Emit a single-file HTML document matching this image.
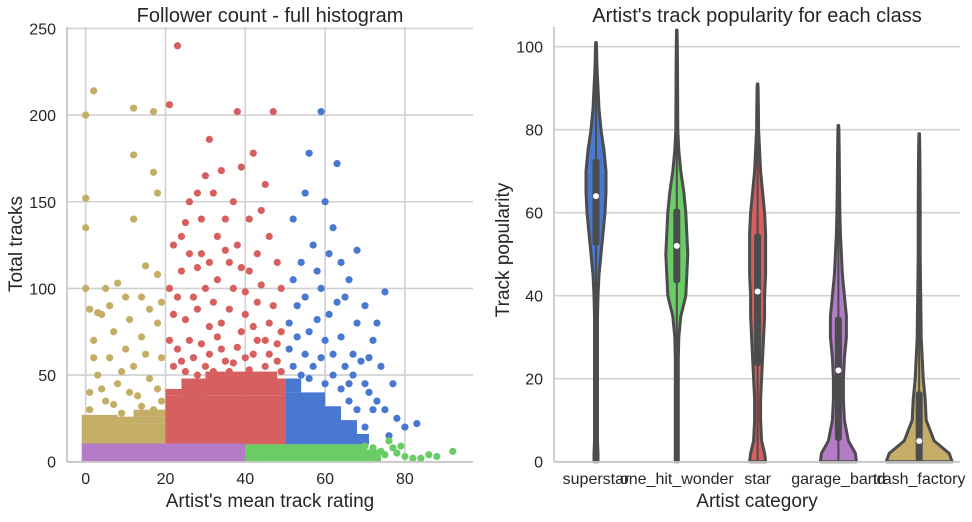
<!DOCTYPE html>
<html><head><meta charset="utf-8"><style>
html,body{margin:0;padding:0;background:#fff;}
svg text{font-family:"Liberation Sans",sans-serif;fill:#262626;}
</style></head><body>
<svg id="s" width="972" height="517" xmlns="http://www.w3.org/2000/svg">
<g id="left"></g>
<g id="right"></g>
</svg>
<script>
// ---------- scatter data ----------
const tanPts=[[0,200],[0,152],[0,135],[2,214],[12,204],[17,202],[12,177],[17,167],[12,140],[18,155],[0,100],[5,100],[3,86],[8,103],[10,95],[15,113],[18,108],[2,70],[6,60],[10,65],[14,72],[3,50],[8,45],[12,55],[16,48],[19,60],[1,40],[5,35],[13,38],[17,30],[9,28],[4,85],[11,82],[16,88],[7,75],[18,80],[1,88],[6,90],[14,95],[19,92],[2,60],[9,52],[15,62],[4,42],[11,40],[18,42],[7,33],[14,32],[1,30],[19,35]];
const redPts=[[23,240],[21,206],[38,202],[31,186],[39,170],[42,178],[47,202],[30,165],[28,155],[32,155],[25,138],[35,140],[44,145],[22,125],[29,120],[38,125],[46,130],[24,110],[33,105],[41,110],[49,100],[27,95],[36,88],[43,92],[22,85],[31,78],[39,75],[46,80],[26,70],[34,65],[42,62],[48,68],[24,58],[30,55],[37,57],[45,55],[21,100],[28,112],[40,98],[33,130],[26,150],[41,140],
[23,95],[25,82],[28,88],[30,100],[32,92],[34,80],[36,115],[37,100],[40,85],[42,78],[44,102],[45,70],[47,90],[49,75],[21,70],[23,65],[27,60],[29,68],[31,62],[33,72],[35,58],[38,66],[40,60],[43,70],[46,62],[48,58],[22,55],[25,52],[28,50],[32,52],[36,52],[41,53],[44,50],[49,52],[26,120],[31,115],[35,122],[39,112],[43,120],[48,115],[24,130],[29,140],[37,150],[45,160],[34,168]];
const bluePts=[[59,202],[56,178],[63,172],[55,155],[60,150],[52,140],[62,135],[68,122],[57,125],[54,115],[64,115],[52,105],[59,100],[66,105],[53,90],[61,85],[70,90],[75,98],[56,75],[64,72],[72,70],[51,65],[59,60],[67,62],[74,55],[62,50],[70,45],[77,45],[66,35],[72,30],[78,25],[80,20],[83,22],[76,15],[70,20],[58,82],[68,80],[55,95],[63,92],
[51,80],[53,72],[55,62],[57,55],[60,70],[62,62],[65,55],[67,50],[69,58],[71,40],[73,35],[75,30],[68,30],[64,42],[66,45],[60,45],[56,48],[52,55],[54,50],[58,110],[61,120],[65,95],[73,80],[71,60]];
const greenPts=[[72,8],[76,12],[78,5],[80,3],[84,2],[86,4],[88,3],[92,6],[75,4],[82,2],[70,9],[74,6],[77,8],[79,9]];
// dense regions: [x0,x1,y0,y1]
const denseTan=[[-1,20,10,22],[-1,8,22,27],[8,20,22,26],[12,20,26,30]];
const denseRed=[[20,50,10,38],[20,30,38,42],[24,50,38,48],[30,48,48,52]];
const denseBlue=[[50,60,10,40],[60,64,10,32],[64,68,10,24],[68,71,10,16],[50,54,40,48]];
const densePurple=[[-1,40,0,10.5]];
const denseGreen=[[40,70,0,10],[70,74,0,7]];
const scatXTicks=[0,20,40,60,80];
const scatYTicks=[0,50,100,150,200,250];

// ---------- violin data ----------
const cats=["superstar","one_hit_wonder","star","garage_band","trash_factory"];
const vColors=["#4878cf","#6acc65","#d65f5f","#b47cc7","#c4ad66"];
const vY=[0,2,5,10,15,20,25,30,35,40,45,50,55,60,65,70,75,80,85,90,95,100];
const dSuper=[2,2,1.5,1.5,1.5,1.5,1.5,1.5,1.5,2,3,5,7,9,10,10,8,5,3,2,1,0.5];
const dGreen=[1.5,1.5,1.5,1.5,1.5,1.5,1.5,2,4,9,10,11,10,9,7,4,2,1,0.9,0.8,0.7,0.5];
const dRed=[8,7,4,3,3,4,5,6,7,7,8,8,8,7,5,3,2,1,0.8,0.5,0,0];
const dPurple=[18,17,10,6,5,5,6,8,8,6,4,3,2,1.5,1.2,1,0.8,0.5,0,0,0,0];
const dTan=[33,30,15,7,6,4,3,2,1.8,1.5,1.2,1,1,1,0.9,0.8,0.6,0.5,0,0,0,0];
const vDens=[dSuper,dGreen,dRed,dPurple,dTan];
const vMax=[101,104,91,81,79];
const vQ1=[52,43,23,5,0];
const vQ3=[73,61,55,35,17];
const vMed=[64,52,41,22,5];
const violYTicks=[0,20,40,60,80,100];

const NS="http://www.w3.org/2000/svg";
function mk(tag,attrs,parent,txt){const e=document.createElementNS(NS,tag);for(const k in attrs)e.setAttribute(k,attrs[k]);if(txt!==undefined)e.textContent=txt;parent.appendChild(e);return e;}

// ---------- scatter ----------
const L=document.getElementById('left');
const sx=v=>85.7+v*3.99, sy=v=>461.7-v*1.733;
scatXTicks.forEach(t=>{const l=mk('line',{x1:sx(t),x2:sx(t),y1:27,y2:461.7,stroke:'#d0d0d0','stroke-width':1.6},L);

const tx=mk('text',{x:sx(t),y:484,'font-size':16,'text-anchor':'middle'},L,t);
});
scatYTicks.forEach(t=>{const l=mk('line',{x1:67,x2:473,y1:sy(t),y2:sy(t),stroke:'#d0d0d0','stroke-width':1.6},L);

const tx=mk('text',{x:56,y:sy(t)+6,'font-size':16,'text-anchor':'end'},L,t);
});
function dense(arr,col,name){arr.forEach(r=>{const e=mk('rect',{x:sx(r[0]),y:sy(r[3]),width:sx(r[1])-sx(r[0]),height:sy(r[2])-sy(r[3]),fill:col},L);
});}
function pts(arr,col,name){arr.forEach(p=>{const e=mk('circle',{cx:sx(p[0]),cy:sy(p[1]),r:3.6,fill:col},L);
});}
dense(denseTan,'#c4ad66','dense-trash-factory');dense(denseRed,'#d65f5f','dense-star');dense(denseBlue,'#4878cf','dense-superstar');
pts(tanPts,'#c4ad66','point-trash-factory');pts(redPts,'#d65f5f','point-star');pts(bluePts,'#4878cf','point-superstar');
dense(denseGreen,'#6acc65','dense-one-hit-wonder');dense(densePurple,'#b47cc7','dense-garage-band');
pts(greenPts,'#6acc65','point-one-hit-wonder');
let a=mk('line',{x1:67,x2:67,y1:27,y2:462,stroke:'#c8c8c8','stroke-width':1.8},L);
a=mk('line',{x1:67,x2:473,y1:462,y2:462,stroke:'#c8c8c8','stroke-width':1.8},L);
a=mk('text',{x:270,y:22,'font-size':20,'text-anchor':'middle'},L,'Follower count - full histogram');
a=mk('text',{x:270,y:507,'font-size':19,'text-anchor':'middle'},L,"Artist's mean track rating");
a=mk('text',{x:0,y:0,'font-size':19,'text-anchor':'middle',transform:'translate(22,244) rotate(-90)'},L,'Total tracks');

// ---------- violins ----------
const R=document.getElementById('right');
const vx=i=>596+i*80.8, vy=v=>461.7-v*4.15;
violYTicks.forEach(t=>{const l=mk('line',{x1:554,x2:960,y1:vy(t),y2:vy(t),stroke:'#d0d0d0','stroke-width':1.6},R);

const tx=mk('text',{x:543,y:vy(t)+6,'font-size':16,'text-anchor':'end'},R,t);
});
cats.forEach((c,i)=>{
 const cx=vx(i),d=vDens[i];const right=[],left=[];
 for(let k=0;k<vY.length;k++){if(vY[k]>vMax[i])break;right.push([cx+d[k],vy(vY[k])]);}
 right.push([cx+0.3,vy(vMax[i])]);
 for(let k=right.length-1;k>=0;k--)left.push([2*cx-right[k][0],right[k][1]]);
 const all=right.concat(left);
 const p=mk('path',{d:'M'+all.map(q=>q[0].toFixed(1)+','+q[1].toFixed(1)).join('L')+'Z',fill:vColors[i],stroke:'#4c4c4c','stroke-width':3,'stroke-linejoin':'round'},R);
 
 let e=mk('line',{x1:cx,x2:cx,y1:vy(0),y2:vy(vMax[i]),stroke:'#4c4c4c','stroke-width':2},R);
 
 e=mk('rect',{x:cx-3.5,y:vy(vQ3[i]),width:7,height:vy(vQ1[i])-vy(vQ3[i]),rx:3,fill:'#4c4c4c'},R);
 
 e=mk('circle',{cx:cx,cy:vy(vMed[i]),r:3,fill:'#fff'},R);
 
 e=mk('text',{x:cx,y:484,'font-size':16,'text-anchor':'middle'},R,c);
 
});
a=mk('line',{x1:554,x2:554,y1:27,y2:462,stroke:'#c8c8c8','stroke-width':1.8},R);
a=mk('line',{x1:554,x2:960,y1:462,y2:462,stroke:'#c8c8c8','stroke-width':1.8},R);
a=mk('text',{x:757,y:22,'font-size':20,'text-anchor':'middle'},R,"Artist's track popularity for each class");
a=mk('text',{x:757,y:507,'font-size':19,'text-anchor':'middle'},R,'Artist category');
a=mk('text',{x:0,y:0,'font-size':19,'text-anchor':'middle',transform:'translate(509,250) rotate(-90)'},R,'Track popularity');
</script>
</body></html>
